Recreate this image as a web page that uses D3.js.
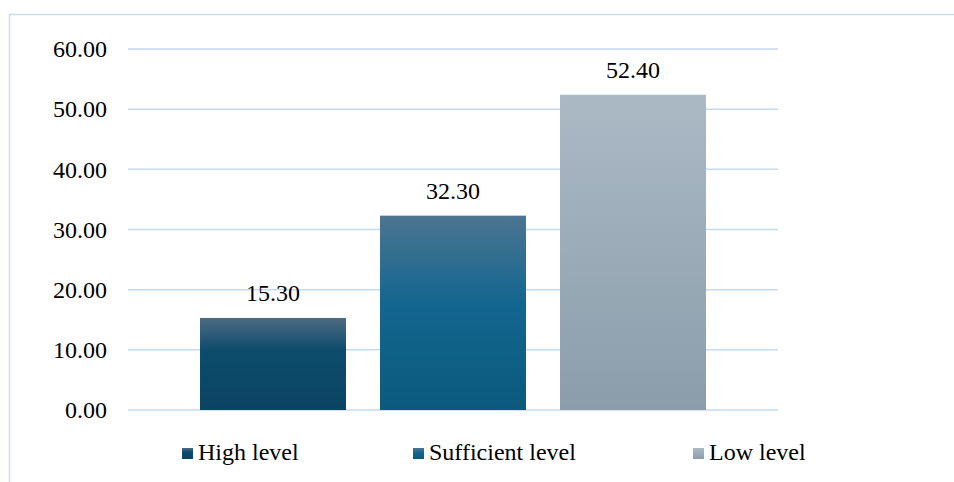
<!DOCTYPE html>
<html><head><meta charset="utf-8">
<script src="https://cdn.jsdelivr.net/npm/d3@7"></script>
<style>html,body{margin:0;padding:0;background:#fff;}svg{display:block;}
svg text{font-family:"Liberation Serif","Times New Roman",serif;}</style>
</head><body>
<svg id="c" width="954" height="482"></svg>
<script>
const categories = ["High level", "Sufficient level", "Low level"];
const values = [15.30, 32.30, 52.40];
const yTicks = [0, 10, 20, 30, 40, 50, 60];

const svg = d3.select("#c");
const FS = 24;

const grads = [
  {id:"g0", stops:[["0%","#4d6b82"],["35%","#0d4c6c"],["100%","#0a4463"]]},
  {id:"g1", stops:[["0%","#4c7590"],["45%","#136690"],["100%","#0b5a7c"]]},
  {id:"g2", stops:[["0%","#abb9c5"],["100%","#8b9dab"]]}
];
const defs = svg.append("defs");
grads.forEach(g => {
  const lg = defs.append("linearGradient").attr("id", g.id).attr("x1",0).attr("y1",0).attr("x2",0).attr("y2",1);
  g.stops.forEach(s => lg.append("stop").attr("offset", s[0]).attr("stop-color", s[1]));
});

svg.append("path").attr("d","M9.5,482 L9.5,14.5 L954,14.5")
  .attr("fill","none").attr("stroke","#c9dcf0").attr("stroke-width",1.5);

const y = d3.scaleLinear().domain([0, 60]).range([410, 49]);
const x = d3.scaleBand().domain(categories).range([183, 723]).paddingInner(0.189).paddingOuter(0.0945);

svg.append("g").selectAll("line").data(yTicks).join("line")
  .attr("x1",128).attr("x2",778)
  .attr("y1",d=>y(d)).attr("y2",d=>y(d))
  .attr("stroke","#c6daf0").attr("stroke-width",1.5);

const yAxis = d3.axisLeft(y).tickValues(yTicks).tickFormat(d3.format(".2f")).tickSize(0).tickPadding(0);
const ya = svg.append("g").attr("transform","translate(107,0)").call(yAxis);
ya.select(".domain").remove();
ya.selectAll("text").style("font-family","Liberation Serif, Times New Roman, serif")
  .attr("font-size",FS).attr("fill","#000").attr("dy","0.32em");

svg.append("g").selectAll("rect").data(values).join("rect")
  .attr("x",(d,i)=>x(categories[i]))
  .attr("width",x.bandwidth())
  .attr("y",d=>y(d))
  .attr("height",d=>y(0)-y(d))
  .attr("fill",(d,i)=>`url(#g${i})`);

svg.append("g").selectAll("text").data(values).join("text")
  .attr("x",(d,i)=>x(categories[i])+x.bandwidth()/2)
  .attr("y",d=>y(d)-16.5)
  .attr("text-anchor","middle")
  .style("font-family","Liberation Serif, Times New Roman, serif")
  .attr("font-size",FS).attr("fill","#000")
  .text(d=>d3.format(".2f")(d));

const legendX = [182, 413, 693];
const lg = svg.append("g").selectAll("g").data(categories).join("g")
  .attr("transform",(d,i)=>`translate(${legendX[i]},0)`);
lg.append("rect").attr("x",0).attr("y",448).attr("width",11).attr("height",11)
  .attr("fill",(d,i)=>`url(#g${i})`);
lg.append("text").attr("x",16).attr("y",460)
  .style("font-family","Liberation Serif, Times New Roman, serif")
  .attr("font-size",FS).attr("fill","#000")
  .text(d=>d);
</script>
</body></html>
